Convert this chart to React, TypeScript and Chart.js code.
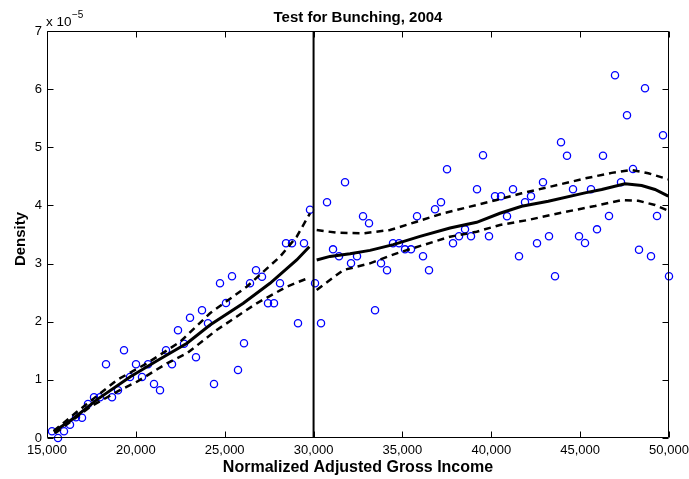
import React, { useEffect, useRef } from 'react';
import { Chart, registerables } from 'chart.js';

Chart.register(...registerables);

// Binned densities (x 10^-5), left of the threshold
const leftBinX = [15281, 15619, 15957, 16294, 16632, 16970, 17307, 17645, 17982, 18320, 18658, 18995, 19333, 19670, 20008, 20346, 20683, 21021, 21359, 21696, 22034, 22371, 22709, 23047, 23384, 23722, 24059, 24397, 24735, 25072, 25410, 25748, 26085, 26423, 26760, 27098, 27436, 27773, 28111, 28449, 28786, 29124, 29461, 29799];
const leftDensity = [0.115, 0.0, 0.115, 0.229, 0.356, 0.349, 0.585, 0.7, 0.7, 1.268, 0.7, 0.82, 1.508, 1.049, 1.268, 1.049, 1.268, 0.929, 0.82, 1.508, 1.268, 1.852, 1.622, 2.069, 1.388, 2.196, 1.973, 0.929, 2.661, 2.322, 2.781, 1.17, 1.629, 2.661, 2.884, 2.774, 2.317, 2.317, 2.661, 3.349, 3.349, 1.973, 3.349, 3.927];

// Binned densities, right of the threshold
const rightBinX = [30082, 30419, 30757, 31094, 31432, 31770, 32107, 32445, 32782, 33120, 33458, 33795, 34133, 34470, 34808, 35146, 35483, 35821, 36158, 36496, 36834, 37171, 37509, 37846, 38184, 38522, 38859, 39197, 39534, 39872, 40210, 40547, 40885, 41222, 41560, 41898, 42235, 42573, 42910, 43248, 43586, 43923, 44261, 44598, 44936, 45274, 45611, 45949, 46286, 46624, 46962, 47299, 47637, 47974, 48312, 48650, 48987, 49325, 49662, 50000];
const rightDensity = [2.661, 1.973, 4.054, 3.245, 3.125, 4.398, 3.005, 3.125, 3.813, 3.693, 2.196, 3.005, 2.884, 3.349, 3.349, 3.245, 3.245, 3.813, 3.125, 2.884, 3.933, 4.054, 4.621, 3.349, 3.469, 3.589, 3.469, 4.277, 4.862, 3.469, 4.157, 4.157, 3.813, 4.277, 3.125, 4.054, 4.157, 3.349, 4.398, 3.469, 2.781, 5.086, 4.855, 4.277, 3.469, 3.354, 4.277, 3.589, 4.855, 3.818, 6.238, 4.398, 5.55, 4.627, 3.239, 6.015, 3.125, 3.818, 5.206, 2.781];

// Local fit and confidence bands, left side
const leftFitX = [15377, 16502, 17814, 19687, 21190, 22878, 24172, 26046, 27548, 29051, 29760];
const leftFit = [0.108, 0.34, 0.66, 1.054, 1.33, 1.629, 1.944, 2.317, 2.661, 3.062, 3.29];
const leftUpperX = [15377, 16688, 18939, 20627, 22501, 24172, 26237, 28111, 29051, 29799];
const leftUpper = [0.12, 0.45, 0.998, 1.285, 1.656, 2.145, 2.602, 3.118, 3.462, 3.865];
const leftLowerX = [15450, 17436, 19125, 20064, 21752, 22878, 24549, 26800, 28488, 29422, 29799];
const leftLower = [0.08, 0.538, 0.826, 0.968, 1.285, 1.457, 1.858, 2.317, 2.602, 2.718, 2.76];

// Local fit and confidence bands, right side
const rightFitX = [30176, 30925, 32050, 33175, 34486, 35989, 37677, 39179, 40491, 41711, 43208, 45273, 46213, 47524, 48463, 49211, 49960];
const rightFit = [3.061, 3.123, 3.17, 3.227, 3.325, 3.468, 3.612, 3.71, 3.865, 3.986, 4.072, 4.216, 4.274, 4.372, 4.343, 4.274, 4.159];
const rightUpperX = [30176, 31301, 32798, 34300, 35803, 37300, 38802, 40304, 41711, 43399, 45273, 46776, 47901, 48835, 49960];
const rightUpper = [3.577, 3.531, 3.52, 3.577, 3.72, 3.865, 3.979, 4.094, 4.208, 4.328, 4.464, 4.56, 4.61, 4.553, 4.45];
const rightLowerX = [30176, 31673, 33175, 34677, 36175, 37677, 39179, 40491, 42083, 43962, 45836, 47339, 48273, 49211, 49960];
const rightLower = [2.545, 2.889, 3.004, 3.176, 3.319, 3.462, 3.548, 3.664, 3.75, 3.876, 3.99, 4.093, 4.081, 4.007, 3.909];

const threshold = 30000;
const xTicks = [15000, 20000, 25000, 30000, 35000, 40000, 45000, 50000];
const yTicks = [0, 1, 2, 3, 4, 5, 6, 7];

const titleText = 'Test for Bunching, 2004';
const xTitle = 'Normalized Adjusted Gross Income';
const yTitle = 'Density';

const FONT = '"Liberation Sans", Arial, Helvetica, sans-serif';

export default function App() {
  const ref = useRef<HTMLCanvasElement>(null);

  useEffect(() => {
    if (!ref.current) return;
    const pts = (xs: number[], ys: number[]) => xs.map((x, i) => ({ x, y: ys[i] }));

    const solid = (data: any[]) => ({
      data, showLine: true, borderColor: '#000', borderWidth: 3, pointRadius: 0, tension: 0, fill: false,
    });
    const dashed = (data: any[]) => ({
      data, showLine: true, borderColor: '#000', borderWidth: 2.5, borderDash: [7, 5], pointRadius: 0, tension: 0, fill: false,
    });
    const scatter = (data: any[]) => ({
      data, showLine: false, pointRadius: 3.6, pointBorderWidth: 1.3, pointBorderColor: '#0000ff',
      pointBackgroundColor: 'rgba(0,0,0,0)', borderColor: '#0000ff', backgroundColor: 'rgba(0,0,0,0)', clip: false,
    });

    const decor = {
      id: 'decor',
      afterDraw(chart: any) {
        const { ctx, chartArea: a, scales } = chart;
        const L = Math.round(a.left) + 0.5, R = Math.round(a.right) - 0.5;
        const T = Math.round(a.top) + 0.5, B = Math.round(a.bottom) - 0.5;
        ctx.save();
        ctx.strokeStyle = '#000';
        ctx.lineWidth = 1;
        ctx.beginPath();
        ctx.rect(L, T, R - L, B - T);
        const tl = 6;
        xTicks.forEach((v) => {
          const px = Math.round(scales.x.getPixelForValue(v)) + 0.5;
          ctx.moveTo(px, B); ctx.lineTo(px, B - tl);
          ctx.moveTo(px, T); ctx.lineTo(px, T + tl);
        });
        yTicks.forEach((v) => {
          const py = Math.round(scales.y.getPixelForValue(v)) + 0.5;
          ctx.moveTo(L, py); ctx.lineTo(L + tl, py);
          ctx.moveTo(R, py); ctx.lineTo(R - tl, py);
        });
        ctx.stroke();

        ctx.fillStyle = '#000';
        ctx.textAlign = 'center';
        ctx.textBaseline = 'alphabetic';
        ctx.font = `bold 15px ${FONT}`;
        ctx.fillText(titleText, (a.left + a.right) / 2, 22);

        ctx.font = `bold 16px ${FONT}`;
        ctx.fillText(xTitle, (a.left + a.right) / 2, 472);

        ctx.save();
        ctx.translate(25, 239);
        ctx.rotate(-Math.PI / 2);
        ctx.font = `bold 15px ${FONT}`;
        ctx.fillText(yTitle, 0, 0);
        ctx.restore();

        ctx.textAlign = 'left';
        ctx.textBaseline = 'alphabetic';
        ctx.font = `13.5px ${FONT}`;
        ctx.fillText('x 10', 46, 26);
        const w = ctx.measureText('x 10').width;
        ctx.font = `10px ${FONT}`;
        ctx.fillText('\u22125', 46 + w + 0.5, 18);
        ctx.restore();
      },
    };

    const chart = new Chart(ref.current, {
      type: 'scatter',
      data: {
        datasets: [
          { ...solid([{ x: threshold, y: 0 }, { x: threshold, y: 7 }]), borderWidth: 2 },
          solid(pts(leftFitX, leftFit)),
          dashed(pts(leftUpperX, leftUpper)),
          dashed(pts(leftLowerX, leftLower)),
          solid(pts(rightFitX, rightFit)),
          dashed(pts(rightUpperX, rightUpper)),
          dashed(pts(rightLowerX, rightLower)),
          scatter(pts(leftBinX, leftDensity)),
          scatter(pts(rightBinX, rightDensity)),
        ] as any,
      },
      options: {
        animation: false,
        responsive: false,
        maintainAspectRatio: false,
        layout: { padding: { left: 0, right: 20, top: 31, bottom: 0 } },
        plugins: { legend: { display: false }, tooltip: { enabled: false }, title: { display: false } },
        scales: {
          x: {
            type: 'linear',
            min: 15000,
            max: 50000,
            grid: { display: false, drawTicks: false },
            border: { display: false },
            afterFit: (s: any) => { s.height = 41; s.paddingLeft = 0; s.paddingRight = 0; },
            afterBuildTicks: (s: any) => { s.ticks = xTicks.map((v) => ({ value: v })); },
            ticks: {
              autoSkip: false,
              maxRotation: 0,
              padding: 5,
              color: '#000',
              font: { family: FONT, size: 13 },
              callback: (v: any) => Number(v).toLocaleString('en-US'),
            },
          },
          y: {
            type: 'linear',
            min: 0,
            max: 7,
            grid: { display: false, drawTicks: false },
            border: { display: false },
            afterFit: (s: any) => { s.width = 47; s.paddingTop = 0; s.paddingBottom = 0; },
            afterBuildTicks: (s: any) => { s.ticks = yTicks.map((v) => ({ value: v })); },
            ticks: {
              padding: 5,
              color: '#000',
              font: { family: FONT, size: 13 },
              callback: (v: any) => String(v),
            },
          },
        },
      },
      plugins: [decor],
    });
    return () => chart.destroy();
  }, []);

  return (
    <div style={{ position: 'absolute', left: 0, top: 0, width: 689, height: 479, background: '#fff' }}>
      <canvas ref={ref} width={689} height={479} style={{ display: 'block' }} />
    </div>
  );
}
